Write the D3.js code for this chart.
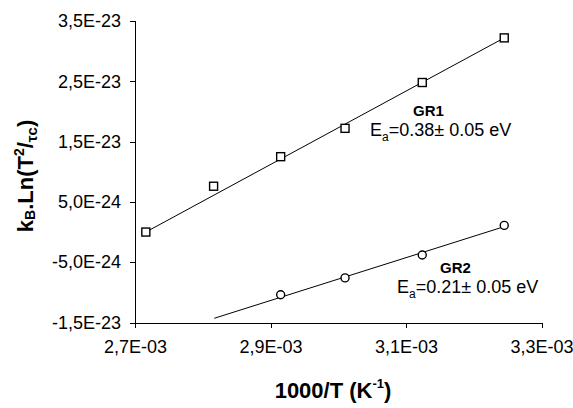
<!DOCTYPE html>
<meta charset="utf-8">
<style>
body { margin: 0; background: #fff; }
svg { font-family: "Liberation Sans", Arial, sans-serif; }
.axis path, .axis line { stroke: #000; stroke-width: 1px; shape-rendering: crispEdges; }
.axis text { font-size: 18px; fill: #000; }
.fit { fill: none; stroke: #000; stroke-width: 1px; }
.mark { fill: #fff; stroke: #000; stroke-width: 1.4px; }
</style>
<svg width="573" height="408"></svg>
<script src="https://cdn.jsdelivr.net/npm/d3@7"></script>
<script>
// 1000/T values (K^-1)
var gr1X = [2.716e-3, 2.816e-3, 2.915e-3, 3.010e-3, 3.124e-3, 3.245e-3];
var gr1Y = [0.0, 7.6e-24, 1.25e-23, 1.72e-23, 2.48e-23, 3.22e-23];
var gr2X = [2.915e-3, 3.010e-3, 3.124e-3, 3.245e-3];
var gr2Y = [-1.04e-23, -7.6e-24, -3.8e-24, 1.1e-24];
// fitted lines (end points)
var fit1 = [[2.716e-3, 0.0], [3.245e-3, 3.22e-23]];
var fit2 = [[2.817e-3, -1.43e-23], [3.245e-3, 9e-25]];
var xTicks = [2.7e-3, 2.9e-3, 3.1e-3, 3.3e-3];
var yTicks = [-1.5e-23, -5e-24, 5e-24, 1.5e-23, 2.5e-23, 3.5e-23];

var svg = d3.select("svg");
var x = d3.scaleLinear().domain([2.7e-3, 3.3e-3]).range([135, 541.5]);
var y = d3.scaleLinear().domain([-1.5e-23, 3.5e-23]).range([322.5, 21]);

function sci(v) {
  var s = v.toExponential(1).split("e");
  var e = +s[1];
  var es = (e < 0 ? "-" : "+") + (Math.abs(e) < 10 ? "0" : "") + Math.abs(e);
  return s[0].replace(".", ",") + "E" + es;
}

svg.append("g").attr("class", "axis")
    .attr("transform", "translate(0,322.5)")
    .call(d3.axisBottom(x).tickValues(xTicks).tickSize(5).tickPadding(13).tickFormat(sci));

svg.append("g").attr("class", "axis")
    .attr("transform", "translate(135,0)")
    .call(d3.axisLeft(y).tickValues(yTicks).tickSize(5).tickPadding(9).tickFormat(sci));

var line = d3.line().x(function(d) { return x(d[0]); }).y(function(d) { return y(d[1]); });
svg.append("path").attr("class", "fit").datum(fit1).attr("d", line);
svg.append("path").attr("class", "fit").datum(fit2).attr("d", line);

svg.selectAll(".sq").data(d3.zip(gr1X, gr1Y)).enter().append("rect")
    .attr("class", "mark")
    .attr("x", function(d) { return x(d[0]) - 4; })
    .attr("y", function(d) { return y(d[1]) - 4; })
    .attr("width", 8).attr("height", 8);

svg.selectAll(".ci").data(d3.zip(gr2X, gr2Y)).enter().append("circle")
    .attr("class", "mark")
    .attr("cx", function(d) { return x(d[0]); })
    .attr("cy", function(d) { return y(d[1]); })
    .attr("r", 4);

// annotations
function label(tx, ty, name, ea) {
  svg.append("text").attr("x", tx + 43).attr("y", ty).attr("font-size", 15)
      .attr("font-weight", "bold").text(name);
  var t = svg.append("text").attr("x", tx).attr("y", ty + 20).attr("font-size", 18);
  t.append("tspan").text("E");
  t.append("tspan").attr("font-size", 12).attr("dy", 5).text("a");
  t.append("tspan").attr("dy", -5).text("=" + ea + "\u00b1 0.05 eV");
}
label(370, 116, "GR1", "0.38");
label(397, 272.5, "GR2", "0.21");

// axis titles
var xt = svg.append("text").attr("x", 333).attr("y", 398)
    .attr("text-anchor", "middle").attr("font-size", 22).attr("font-weight", "bold");
xt.append("tspan").text("1000/T (K");
xt.append("tspan").attr("font-size", 13).attr("dy", -10).text("-1");
xt.append("tspan").attr("dy", 10).text(")");

var yt = svg.append("text").attr("transform", "translate(33,176) rotate(-90)")
    .attr("text-anchor", "middle").attr("font-size", 22).attr("font-weight", "bold");
yt.append("tspan").text("k");
yt.append("tspan").attr("font-size", 14).attr("dy", 2).text("B");
yt.append("tspan").attr("dy", -2).text(".Ln(T");
yt.append("tspan").attr("font-size", 14).attr("dy", -9).text("2");
yt.append("tspan").attr("dy", 9).text("/");
yt.append("tspan").attr("font-size", 15).attr("dy", 4).text("\u03c4c");
yt.append("tspan").attr("dy", -4).text(")");
</script>
